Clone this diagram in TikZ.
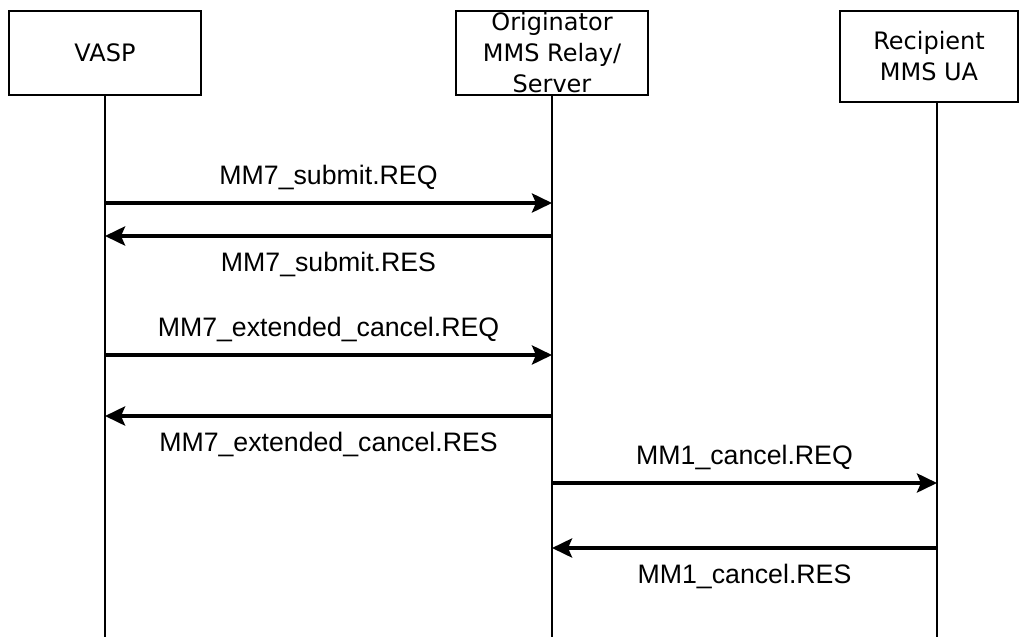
\documentclass[tikz,border=0pt]{standalone}
\usepackage{fontspec}
\setmainfont{Liberation Sans}
\newfontfamily\entfont{DejaVu Sans}
\usetikzlibrary{arrows.meta}

\begin{document}
\begin{tikzpicture}[x=1pt,y=-1pt,
  >={Stealth[length=20pt,width=19pt,inset=4pt]},
  entity/.style={draw,line width=1.4pt,inner sep=0pt,align=center,
    font=\entfont\fontsize{24}{31}\selectfont},
  life/.style={line width=1.4pt},
  msg/.style={->,line width=4pt},
  req/.style={above=12pt,inner sep=0pt,text height=19pt,text depth=5pt,
    font=\fontsize{26.7}{30}\selectfont},
  res/.style={below=14pt,inner sep=0pt,text height=19pt,text depth=5pt,
    font=\fontsize{26.7}{30}\selectfont}]
  \useasboundingbox (0,0) rectangle (1019,637);

  % entities
  \node[entity,minimum width=192pt,minimum height=84pt] (vasp) at (105,53) {VASP};
  \node[entity,minimum width=192pt,minimum height=84pt] (mmsc) at (552,53)
    {Originator\\MMS Relay/\\Server};
  \node[entity,minimum width=178pt,minimum height=91pt] (ua) at (929,56.5)
    {Recipient\\MMS UA};

  % lifelines
  \coordinate (vtop) at (vasp.south);
  \coordinate (mtop) at (mmsc.south);
  \coordinate (utop) at (937,102);
  \coordinate (vbot) at (105,637);
  \coordinate (mbot) at (552,637);
  \coordinate (ubot) at (937,637);
  \draw[life] (vtop) -- (vbot);
  \draw[life] (mtop) -- (mbot);
  \draw[life] (utop) -- (ubot);

  % message points
  \coordinate (v1) at (105,203); \coordinate (m1) at (552,203);
  \coordinate (v2) at (105,236); \coordinate (m2) at (552,236);
  \coordinate (v3) at (105,355); \coordinate (m3) at (552,355);
  \coordinate (v4) at (105,416); \coordinate (m4) at (552,416);
  \coordinate (m5) at (552,483); \coordinate (u5) at (937,483);
  \coordinate (m6) at (552,548); \coordinate (u6) at (937,548);

  % messages
  \draw[msg] (v1) -- node[req] {MM7\_submit.REQ} (m1);
  \draw[msg] (m2) -- node[res] {MM7\_submit.RES} (v2);
  \draw[msg] (v3) -- node[req] {MM7\_extended\_cancel.REQ} (m3);
  \draw[msg] (m4) -- node[res] {MM7\_extended\_cancel.RES} (v4);
  \draw[msg] (m5) -- node[req] {MM1\_cancel.REQ} (u5);
  \draw[msg] (u6) -- node[res] {MM1\_cancel.RES} (m6);
\end{tikzpicture}
\end{document}
